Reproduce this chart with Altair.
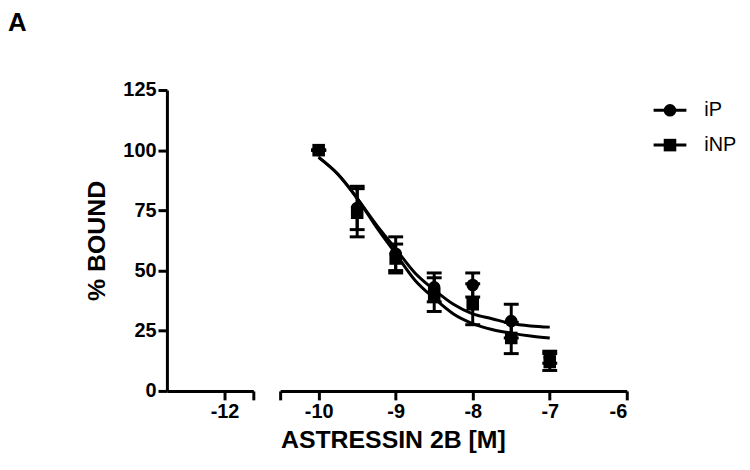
import altair as alt
import pandas as pd

# ---- data ----
conc = [-10, -9.5, -9, -8.5, -8, -7.5, -7]
ip_mean = [100, 76, 57, 43, 44, 29, 14]
ip_err = [0, 9, 7, 6, 5, 7, 2.5]
inp_mean = [100, 74, 55, 40, 36, 22, 12]
inp_err = [0, 10, 6, 7, 8.5, 6.5, 3.5]

fit_x = [-10, -9.75, -9.5, -9.25, -9, -8.75, -8.5, -8.25, -8, -7.75, -7.5, -7.25, -7]
ip_fit = [97, 90, 80, 69, 59, 49, 42, 36, 32, 30, 28, 27, 26.5]
inp_fit = [97, 90, 80, 68, 57, 46, 38.5, 32, 28, 25.5, 24, 22.8, 22]

series = ["iP", "iNP"]
left_ticks = [-12, -11.5]
right_ticks = [-10.5, -10, -9, -8, -7, -6]
y_ticks = [0, 25, 50, 75, 100, 125]

# ---- tables ----
rows = []
for s, means, errs in [("iP", ip_mean, ip_err), ("iNP", inp_mean, inp_err)]:
    for c, m, e in zip(conc, means, errs):
        rows.append({"conc": c, "value": m, "lo": m - e, "hi": m + e, "series": s})
pts = pd.DataFrame(rows)

frows = []
for s, ys in [("iP", ip_fit), ("iNP", inp_fit)]:
    for c, v in zip(fit_x, ys):
        frows.append({"conc": c, "value": v, "series": s})
fit = pd.DataFrame(frows)

leg = pd.DataFrame({"series": series})

FONT = "Liberation Sans"
label_expr = "datum.value % 1 != 0 ? '' : (datum.value < 0 ? '-' + abs(datum.value) : '' + datum.value)"

yscale = alt.Scale(domain=[0, 125], nice=False, zero=True)
shape_scale = alt.Scale(domain=series, range=["circle", "square"])

# ---- left (broken) segment ----
left = alt.Chart(pts).transform_filter("false").mark_point().encode(
    x=alt.X("conc:Q", scale=alt.Scale(domain=[-13, -11.5], nice=False, zero=False),
            axis=alt.Axis(values=left_ticks, labelExpr=label_expr, title=None)),
    y=alt.Y("value:Q", scale=yscale,
            axis=alt.Axis(values=y_ticks, title="% BOUND", titleX=-71, titleY=151.5,
                          titleBaseline="middle", titleAngle=270)),
).properties(width=87, height=303)

# ---- right segment ----
xr = alt.X("conc:Q", scale=alt.Scale(domain=[-10.5, -6], nice=False, zero=False),
           axis=alt.Axis(values=right_ticks, labelExpr=label_expr, title="ASTRESSIN 2B [M]",
                         titleX=113.5, titleY=56.7, titleBaseline="alphabetic"))
yr = alt.Y("value:Q", scale=yscale, axis=None)

curves = alt.Chart(fit).mark_line(color="black", strokeWidth=3, interpolate="monotone").encode(
    x=xr, y=yr, detail="series:N")

bars = alt.Chart(pts).mark_rule(color="black", strokeWidth=3, opacity=1).encode(
    x=xr, y=alt.Y("lo:Q", scale=yscale, axis=None), y2="hi:Q")

caps_lo = alt.Chart(pts).mark_tick(color="black", orient="horizontal", size=15, thickness=3,
                                   opacity=1).encode(
    x=xr, y=alt.Y("lo:Q", scale=yscale, axis=None))
caps_hi = alt.Chart(pts).mark_tick(color="black", orient="horizontal", size=15, thickness=3,
                                   opacity=1).encode(
    x=xr, y=alt.Y("hi:Q", scale=yscale, axis=None))

markers = alt.Chart(pts).mark_point(filled=True, color="black", size=160, opacity=1).encode(
    x=xr, y=yr, shape=alt.Shape("series:N", scale=shape_scale, legend=None))

right = alt.layer(curves, bars, caps_lo, caps_hi, markers).properties(width=349, height=303)

# ---- legend panel (line + marker + label) ----
ly = alt.Y("series:N", scale=alt.Scale(type="point", domain=series, range=[20.5, 55.5], padding=0),
           axis=None)
leg_line = alt.Chart(leg).mark_rule(color="black", strokeWidth=3).encode(
    x=alt.value(0), x2=alt.value(33), y=ly)
leg_pt = alt.Chart(leg).mark_point(filled=True, color="black", size=160, opacity=1).encode(
    x=alt.value(16.5), y=ly, shape=alt.Shape("series:N", scale=shape_scale, legend=None))
leg_txt = alt.Chart(leg).mark_text(align="left", baseline="middle", font=FONT, fontSize=20,
                                   color="black").encode(
    x=alt.value(51), y=ly, text="series:N")
legend_panel = alt.layer(leg_line, leg_pt, leg_txt).properties(width=80, height=80)

main = alt.hconcat(left, right, spacing=23)

chart = alt.hconcat(main, legend_panel, spacing=23).properties(
    title=alt.TitleParams("A", anchor="start", frame="group", font=FONT, fontSize=26,
                          fontWeight="bold", color="black", dx=-160, offset=44),
    padding={"left": 0, "top": 1, "right": 5, "bottom": 5},
).configure_view(stroke=None).configure_axis(
    domainColor="black", domainWidth=3, tickColor="black", tickWidth=3, tickSize=9,
    labelFont=FONT, labelFontWeight="bold", labelFontSize=20, labelColor="black", labelPadding=2,
    titleFont=FONT, titleFontWeight="bold", titleFontSize=25, titleColor="black", grid=False,
)

chart.save("out.html", embed_options={"renderer": "svg", "actions": False})
